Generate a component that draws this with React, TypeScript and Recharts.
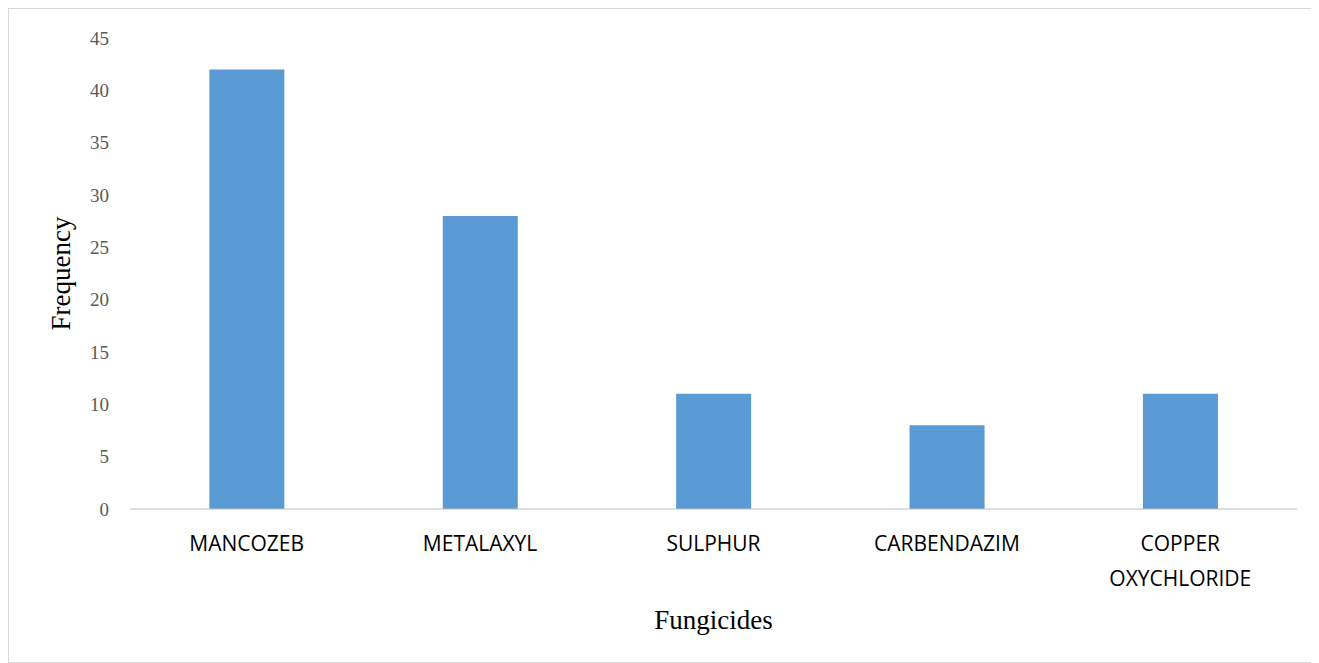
import React from "react";
import { BarChart, Bar, XAxis, YAxis, Label } from "recharts";

const categories = ["MANCOZEB", "METALAXYL", "SULPHUR", "CARBENDAZIM", "COPPER OXYCHLORIDE"];
const frequency = [42, 28, 11, 8, 11];
const yTicks = [0, 5, 10, 15, 20, 25, 30, 35, 40, 45];

const data = categories.map((name, i) => ({ name, value: frequency[i] }));

const XTick = (props: any) => {
  const { x, y, payload } = props;
  const words: string[] = payload.value === "COPPER OXYCHLORIDE" ? ["COPPER", "OXYCHLORIDE"] : [payload.value];
  return (
    <g>
      {words.map((w, i) => (
        <text key={i} x={x} y={y + 34 + i * 35} textAnchor="middle" fontFamily="'Open Sans', sans-serif" fontSize={21} fill="#000">
          {w}
        </text>
      ))}
    </g>
  );
};

export default function App() {
  return (
    <div style={{ width: 1302, height: 653, border: "1px solid #d9d9d9" }}>
      <BarChart width={1302} height={653} data={data} margin={{ top: 29, right: 14, left: 0, bottom: 0 }} barCategoryGap="34%">
        <XAxis dataKey="name" height={153} tick={<XTick />} tickLine={false} axisLine={{ stroke: "#bfbfbf" }} interval={0}>
          <Label value="Fungicides" position="insideBottom" offset={33} style={{ fontFamily: "'Liberation Serif', serif", fontSize: 27, fill: "#000" }} />
        </XAxis>
        <YAxis width={121} domain={[0, 45]} ticks={yTicks} axisLine={false} tickLine={false} tickMargin={15}
          tick={{ fontFamily: "'Liberation Serif', serif", fontSize: 19, fill: "#595959" }}>
          <Label value="Frequency" angle={-90} position="insideLeft" offset={51} style={{ fontFamily: "'Liberation Serif', serif", fontSize: 27, fill: "#000", textAnchor: "middle" }} />
        </YAxis>
        <Bar dataKey="value" fill="#5b9bd5" isAnimationActive={false} />
      </BarChart>
    </div>
  );
}
